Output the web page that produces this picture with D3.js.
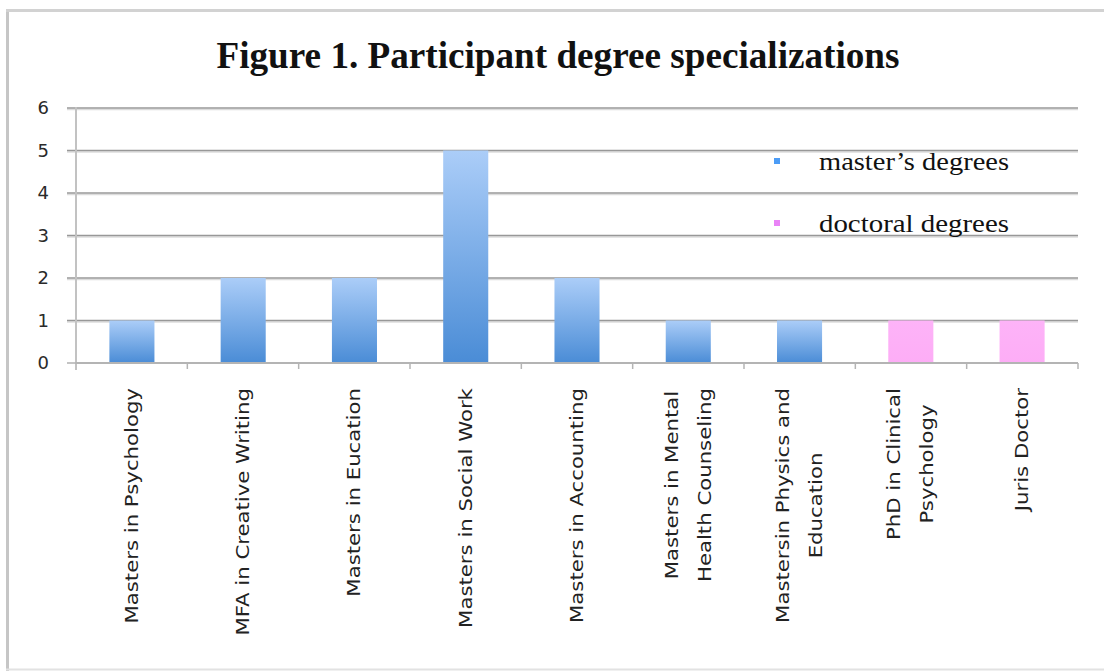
<!DOCTYPE html>
<html>
<head>
<meta charset="utf-8">
<script src="https://cdn.jsdelivr.net/npm/d3@7"></script>
<style>
  html, body { margin: 0; padding: 0; background: #fff; }
  svg { display: block; }
</style>
</head>
<body>
<svg id="chart" width="1104" height="671"></svg>
<script>
// ---- data ----
const categories = [
  "Masters in Psychology", "MFA in Creative Writing", "Masters in Eucation",
  "Masters in Social Work", "Masters in Accounting", "Masters in Mental Health Counseling",
  "Mastersin Physics and Education", "PhD in Clinical Psychology", "Juris Doctor"
];
const labelLines = [
  ["Masters in Psychology"], ["MFA in Creative Writing"], ["Masters in Eucation"],
  ["Masters in Social Work"], ["Masters in Accounting"], ["Masters in Mental", "Health Counseling"],
  ["Mastersin Physics and", "Education"], ["PhD in Clinical", "Psychology"], ["Juris Doctor"]
];
const counts = [1, 2, 2, 5, 2, 1, 1, 1, 1];
const degreeType = ["master", "master", "master", "master", "master", "master", "master", "doctoral", "doctoral"];
const yTicks = [0, 1, 2, 3, 4, 5, 6];
const legendKeys = ["master", "doctoral"];
const legendLabels = ["master\u2019s degrees", "doctoral degrees"];
const titleText = "Figure 1. Participant degree specializations";

// ---- layout ----
const svg = d3.select("#chart");
const plot = { left: 76, right: 1078, top: 108, bottom: 363 };

const xTick = d3.scaleBand().domain(categories).range([plot.left, plot.right]).padding(0);
const xBar = d3.scaleBand().domain(categories).range([plot.left, plot.right]).paddingInner(0.595).paddingOuter(0.3);
const y = d3.scaleLinear().domain([0, 6]).range([plot.bottom, plot.top]);

// gradients
const defs = svg.append("defs");
const grads = {
  master: ["#abcdf8", "#4a8cd6"],
  doctoral: ["#fdb3f8", "#fdadf6"]
};
Object.entries(grads).forEach(([k, c]) => {
  const g = defs.append("linearGradient").attr("id", "g-" + k)
    .attr("x1", 0).attr("y1", 0).attr("x2", 0).attr("y2", 1);
  g.append("stop").attr("offset", "0%").attr("stop-color", c[0]);
  g.append("stop").attr("offset", "100%").attr("stop-color", c[1]);
});
const legendColor = { master: "#4c9cf6", doctoral: "#e983f6" };

// frame
svg.append("line").attr("x1", 7.5).attr("x2", 7.5).attr("y1", 9).attr("y2", 671)
  .attr("stroke", "#c6c6c6").attr("stroke-width", 3);
svg.append("line").attr("x1", 6).attr("x2", 1104).attr("y1", 10.5).attr("y2", 10.5)
  .attr("stroke", "#d2d2d2").attr("stroke-width", 3);
svg.append("line").attr("x1", 6).attr("x2", 1104).attr("y1", 669.5).attr("y2", 669.5)
  .attr("stroke", "#e2e2e2").attr("stroke-width", 2);

// title
svg.append("text")
  .attr("x", 558).attr("y", 68)
  .attr("text-anchor", "middle")
  .attr("font-family", "'Liberation Serif', 'Times New Roman', serif")
  .attr("font-weight", "bold").attr("font-size", 37)
  .attr("fill", "#111")
  .attr("textLength", 683).attr("lengthAdjust", "spacingAndGlyphs")
  .text(titleText);

// gridlines with faint shadow
const grid = svg.append("g");
grid.selectAll("line.shadow").data(yTicks.filter(d => d > 0)).join("line")
  .attr("class", "shadow")
  .attr("x1", plot.left - 9).attr("x2", plot.right)
  .attr("y1", d => y(d) + 1.5).attr("y2", d => y(d) + 1.5)
  .attr("stroke", "#dcdcdc").attr("stroke-width", 1.5);
grid.selectAll("line.main").data(yTicks.filter(d => d > 0)).join("line")
  .attr("class", "main")
  .attr("x1", plot.left - 9).attr("x2", plot.right)
  .attr("y1", d => y(d)).attr("y2", d => y(d))
  .attr("stroke", "#989898").attr("stroke-width", 1.5);

// bars
svg.append("g").selectAll("rect").data(categories).join("rect")
  .attr("x", d => xBar(d))
  .attr("width", xBar.bandwidth())
  .attr("y", (d, i) => y(counts[i]))
  .attr("height", (d, i) => y(0) - y(counts[i]))
  .attr("fill", (d, i) => "url(#g-" + degreeType[i] + ")");

// y axis
svg.append("line").attr("x1", plot.left).attr("x2", plot.left)
  .attr("y1", plot.top - 1).attr("y2", plot.bottom + 7)
  .attr("stroke", "#c2c2c2").attr("stroke-width", 2);
svg.append("line").attr("x1", plot.left - 9).attr("x2", plot.left)
  .attr("y1", y(0)).attr("y2", y(0))
  .attr("stroke", "#b0b0b0").attr("stroke-width", 1.5);
svg.append("g").selectAll("text").data(yTicks).join("text")
  .attr("x", 49).attr("y", d => y(d))
  .attr("dy", "0.36em")
  .attr("text-anchor", "end")
  .attr("font-family", "'DejaVu Sans', Verdana, sans-serif")
  .attr("font-size", 18)
  .attr("fill", "#2a2a2a")
  .text(d => d);

// x axis
svg.append("line").attr("x1", plot.left).attr("x2", plot.right)
  .attr("y1", y(0)).attr("y2", y(0))
  .attr("stroke", "#b4b4b4").attr("stroke-width", 2);
const boundaries = categories.map(c => xTick(c)).concat([xTick(categories[categories.length - 1]) + xTick.bandwidth()]);
svg.append("g").selectAll("line").data(boundaries.slice(1)).join("line")
  .attr("x1", d => d).attr("x2", d => d)
  .attr("y1", y(0)).attr("y2", y(0) + 6)
  .attr("stroke", "#b4b4b4").attr("stroke-width", 1.5);

// category labels (rotated, block anchored at top, lines centered)
const labelTop = 388;
const stretch = 1.18;
const lineGap = 33;
const labG = svg.append("g");
categories.forEach((c, i) => {
  const cx = xTick(c) + xTick.bandwidth() / 2;
  const lines = labelLines[i];
  const n = lines.length;
  const nodes = lines.map((t, j) => labG.append("text")
    .attr("text-anchor", "middle")
    .attr("dominant-baseline", "central")
    .attr("font-family", "'DejaVu Sans', Verdana, sans-serif")
    .attr("font-size", 18)
    .attr("fill", "#222")
    .text(t));
  const maxLen = d3.max(nodes, nd => nd.node().getComputedTextLength()) * stretch;
  nodes.forEach((nd, j) => {
    const lx = cx + (j - (n - 1) / 2) * lineGap;
    nd.attr("transform", `translate(${lx},${labelTop + maxLen / 2}) rotate(-90) scale(${stretch},1)`);
  });
});

// legend
const legendY = d3.scalePoint().domain(legendKeys).range([161, 223]);
const lg = svg.append("g");
lg.selectAll("rect").data(legendKeys).join("rect")
  .attr("x", 774).attr("y", d => legendY(d) - 3)
  .attr("width", 6).attr("height", 6)
  .attr("fill", d => legendColor[d]);
lg.selectAll("text").data(legendKeys).join("text")
  .attr("x", 819).attr("y", d => legendY(d) + 9)
  .attr("font-family", "'Liberation Serif', 'Times New Roman', serif")
  .attr("font-size", 26)
  .attr("fill", "#111")
  .attr("textLength", 190).attr("lengthAdjust", "spacingAndGlyphs")
  .text((d, i) => legendLabels[i]);
</script>
</body>
</html>
